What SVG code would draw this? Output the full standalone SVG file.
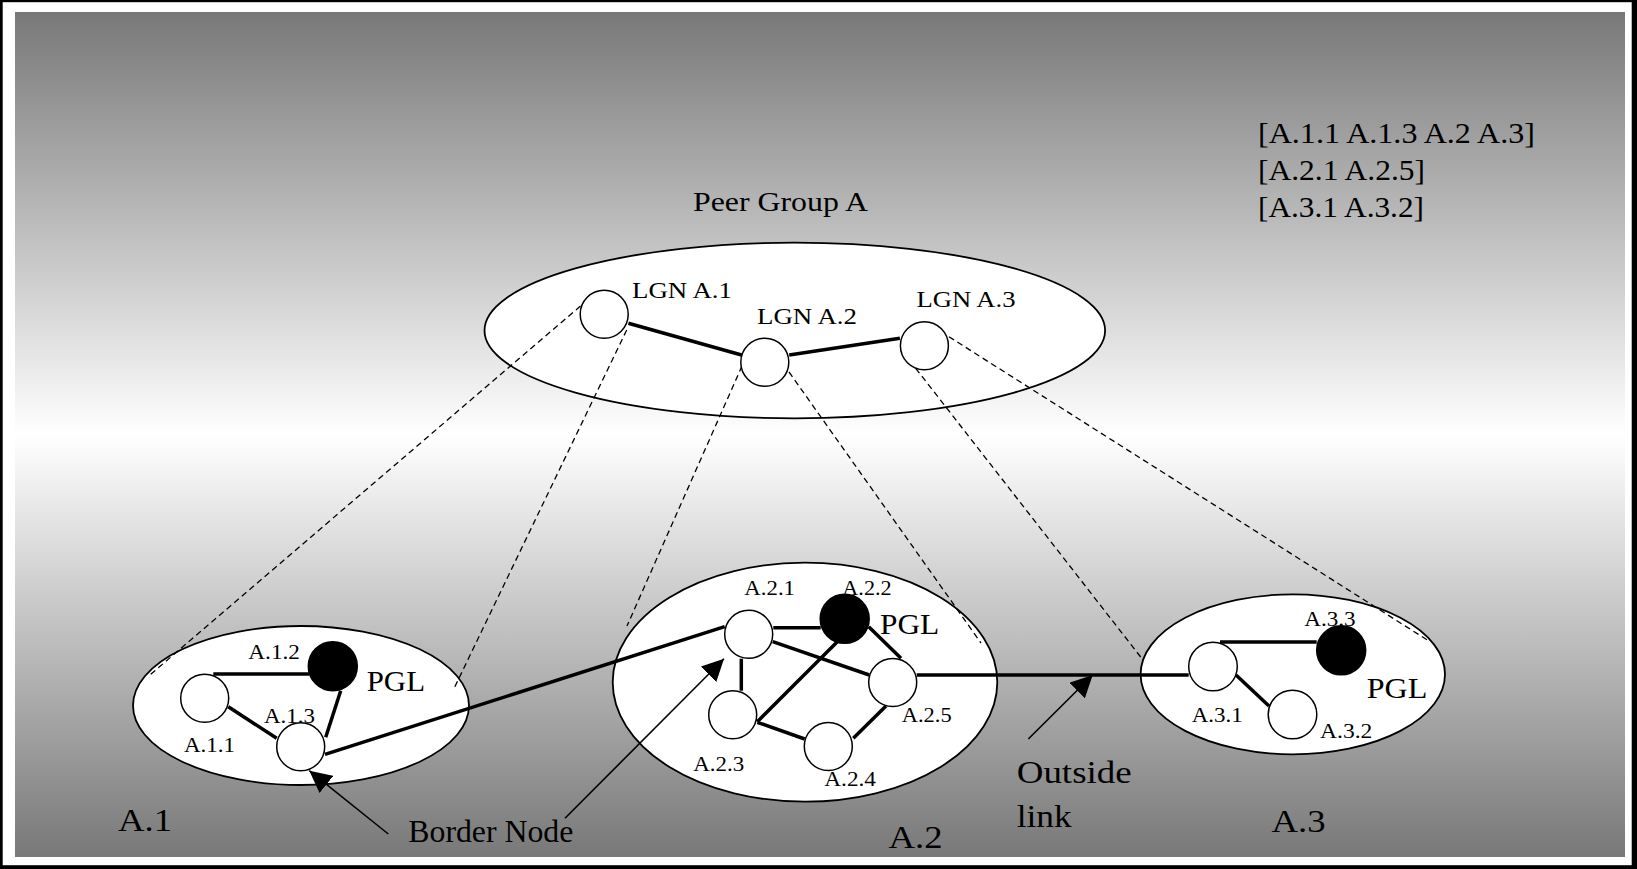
<svg xmlns="http://www.w3.org/2000/svg" width="1637" height="869" viewBox="0 0 1637 869">
<defs>
<linearGradient id="bg" x1="0" y1="0" x2="0" y2="1">
<stop offset="0" stop-color="#787878"/>
<stop offset="0.5" stop-color="#ffffff"/>
<stop offset="1" stop-color="#787878"/>
</linearGradient>
<marker id="arr" markerUnits="userSpaceOnUse" markerWidth="22" markerHeight="22" refX="20" refY="10" orient="auto" viewBox="0 0 20 20">
<path d="M0,0 L20,10 L0,20 z" fill="#000"/>
</marker>
<style>
.grp{fill:#fff;stroke:#000;stroke-width:1.8}
.nd{fill:#fff;stroke:#000;stroke-width:1.5}
.pgl{fill:#000;stroke:#000;stroke-width:1.5}
.lk{stroke:#000;stroke-width:3.5;fill:none}
.ds{stroke:#000;stroke-width:1.3;stroke-dasharray:6 4;fill:none}
.ar{stroke:#000;stroke-width:1.6;fill:none;marker-end:url(#arr)}
text{font-family:"Liberation Serif","Times New Roman",serif;fill:#000}
.s{font-size:20px}
.m{font-size:23px}
.l{font-size:29px}
.b{font-size:32px}
</style>
</defs>
<rect x="0" y="0" width="1637" height="869" fill="#000"/>
<rect x="2.7" y="2.2" width="1629" height="863" fill="#fff"/>
<rect x="15" y="12" width="1610" height="845" fill="url(#bg)"/>

<g id="legend">
<text class="l" x="1258" y="142.7" textLength="277" lengthAdjust="spacingAndGlyphs">[A.1.1 A.1.3 A.2 A.3]</text>
<text class="l" x="1258" y="180" textLength="167" lengthAdjust="spacingAndGlyphs">[A.2.1 A.2.5]</text>
<text class="l" x="1258" y="216.7" textLength="166" lengthAdjust="spacingAndGlyphs">[A.3.1 A.3.2]</text>
</g>

<g id="peer-group-A">
<ellipse class="grp" cx="794.8" cy="330.5" rx="310.3" ry="87.8"/>
<text x="693" y="210.7" style="font-size:28px" textLength="175" lengthAdjust="spacingAndGlyphs">Peer Group A</text>
</g>
<g id="group-A1">
<ellipse class="grp" cx="301" cy="705.5" rx="168" ry="79.5"/>
<text class="b" x="118" y="831" textLength="54" lengthAdjust="spacingAndGlyphs">A.1</text>
</g>
<g id="group-A2">
<ellipse class="grp" cx="805" cy="682.2" rx="192.3" ry="119.5"/>
<text class="b" x="888.5" y="847.7" textLength="54" lengthAdjust="spacingAndGlyphs">A.2</text>
</g>
<g id="group-A3">
<ellipse class="grp" cx="1292.8" cy="674.3" rx="152.2" ry="80"/>
<text class="b" x="1271.6" y="832" textLength="54" lengthAdjust="spacingAndGlyphs">A.3</text>
</g>

<g id="connectors">
<line class="lk" x1="628.4" y1="323.3" x2="741.6" y2="355"/>
<line class="lk" x1="789.2" y1="355" x2="899.9" y2="338.3"/>
<line class="lk" x1="213.3" y1="674" x2="309" y2="674"/>
<line class="lk" x1="228.3" y1="706.7" x2="276.7" y2="738.3"/>
<line class="lk" x1="340.7" y1="690.7" x2="325.7" y2="737.3"/>
<line class="lk" x1="325" y1="754.3" x2="724.7" y2="626.7"/>
<line class="lk" x1="773.3" y1="627.7" x2="820.7" y2="627.7"/>
<line class="lk" x1="772.7" y1="641.7" x2="869.3" y2="675"/>
<line class="lk" x1="868.7" y1="626.7" x2="901" y2="658.3"/>
<line class="lk" x1="741.3" y1="658.7" x2="741.3" y2="690.7"/>
<line class="lk" x1="837.3" y1="641.7" x2="757.3" y2="721.7"/>
<line class="lk" x1="757.3" y1="722.3" x2="804.7" y2="739"/>
<line class="lk" x1="853.3" y1="738.3" x2="886" y2="706"/>
<line class="lk" x1="916.7" y1="675" x2="1188.7" y2="675"/>
<line class="lk" x1="1220" y1="642" x2="1316.7" y2="642"/>
<line class="lk" x1="1236" y1="675" x2="1269" y2="706"/>
<line class="ds" x1="580.5" y1="306" x2="149.3" y2="675.5"/>
<line class="ds" x1="626.7" y1="330" x2="453.3" y2="690"/>
<line class="ds" x1="742" y1="366" x2="627" y2="626"/>
<line class="ds" x1="789" y1="372" x2="981" y2="643"/>
<line class="ds" x1="915.7" y1="368.3" x2="1141.7" y2="658.3"/>
<line class="ds" x1="948.9" y1="336.7" x2="1430" y2="641.7"/>
<line class="ar" x1="388.3" y1="834" x2="309.3" y2="770.7"/>
<line class="ar" x1="565" y1="818.3" x2="724" y2="658.7"/>
<line class="ar" x1="1028.3" y1="739" x2="1092.7" y2="675"/>
</g>

<g id="lgn-A1"><circle class="nd" cx="604.2" cy="314.2" r="24"/><text class="m" x="632" y="298.3" textLength="100" lengthAdjust="spacingAndGlyphs">LGN A.1</text></g>
<g id="lgn-A2"><circle class="nd" cx="764.8" cy="362.2" r="24"/><text class="m" x="757" y="324" textLength="100" lengthAdjust="spacingAndGlyphs">LGN A.2</text></g>
<g id="lgn-A3"><circle class="nd" cx="924.4" cy="345.8" r="24"/><text class="m" x="916.5" y="306.7" textLength="99" lengthAdjust="spacingAndGlyphs">LGN A.3</text></g>

<g id="node-A11"><circle class="nd" cx="204.7" cy="698.3" r="24"/><text class="s" x="184" y="751.7" textLength="51" lengthAdjust="spacingAndGlyphs">A.1.1</text></g>
<g id="node-A12"><circle class="pgl" cx="332.8" cy="666.2" r="24.5"/><text class="s" x="248.3" y="659.3" textLength="51.7" lengthAdjust="spacingAndGlyphs">A.1.2</text><text x="366.7" y="690.7" style="font-size:30px" textLength="58.3" lengthAdjust="spacingAndGlyphs">PGL</text></g>
<g id="node-A13"><circle class="nd" cx="300.7" cy="746.7" r="24"/><text class="s" x="264" y="723.3" textLength="51" lengthAdjust="spacingAndGlyphs">A.1.3</text></g>

<g id="node-A21"><circle class="nd" cx="748.7" cy="634.3" r="24"/><text class="s" x="744.3" y="595" textLength="50.7" lengthAdjust="spacingAndGlyphs">A.2.1</text></g>
<g id="node-A22"><circle class="pgl" cx="844.7" cy="618.8" r="24.5"/><text class="s" x="842.3" y="595" textLength="49.4" lengthAdjust="spacingAndGlyphs">A.2.2</text><text x="880" y="634" style="font-size:30px" textLength="59.3" lengthAdjust="spacingAndGlyphs">PGL</text></g>
<g id="node-A23"><circle class="nd" cx="732.7" cy="714.8" r="24"/><text class="s" x="693.3" y="770.7" textLength="51" lengthAdjust="spacingAndGlyphs">A.2.3</text></g>
<g id="node-A24"><circle class="nd" cx="828.3" cy="746.5" r="24"/><text class="s" x="824.3" y="786" textLength="51.7" lengthAdjust="spacingAndGlyphs">A.2.4</text></g>
<g id="node-A25"><circle class="nd" cx="892.7" cy="682.5" r="24"/><text class="s" x="901.7" y="722.3" textLength="50" lengthAdjust="spacingAndGlyphs">A.2.5</text></g>

<g id="node-A31"><circle class="nd" cx="1213" cy="666.5" r="24.3"/><text class="s" x="1191.7" y="721.7" textLength="51" lengthAdjust="spacingAndGlyphs">A.3.1</text></g>
<g id="node-A32"><circle class="nd" cx="1292.5" cy="714.5" r="24.3"/><text class="s" x="1320" y="738.3" textLength="52.3" lengthAdjust="spacingAndGlyphs">A.3.2</text></g>
<g id="node-A33"><circle class="pgl" cx="1341.2" cy="650.3" r="24.5"/><text class="s" x="1304.3" y="625.7" textLength="51.4" lengthAdjust="spacingAndGlyphs">A.3.3</text><text x="1366.7" y="698.3" style="font-size:30px" textLength="60.7" lengthAdjust="spacingAndGlyphs">PGL</text></g>

<g id="annotations">
<text x="408.3" y="842.3" style="font-size:31px" textLength="165" lengthAdjust="spacingAndGlyphs">Border Node</text>
<text class="b" x="1016.7" y="783.3" textLength="115" lengthAdjust="spacingAndGlyphs">Outside</text>
<text class="b" x="1016.7" y="827.3" textLength="55" lengthAdjust="spacingAndGlyphs">link</text>
</g>
</svg>
